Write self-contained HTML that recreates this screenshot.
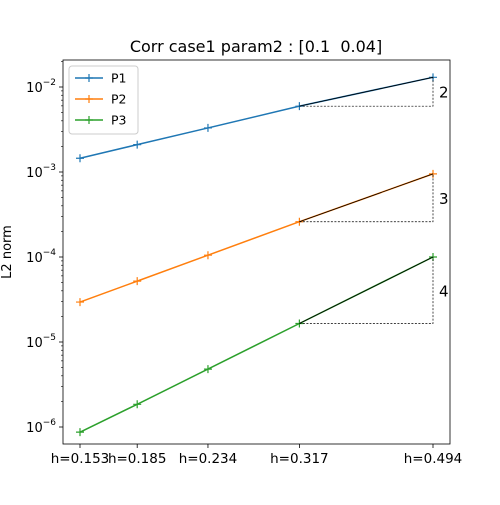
<!DOCTYPE html>
<html><head><meta charset="utf-8"><style>
body{margin:0;background:#fff;}
svg text{font-family:"DejaVu Sans","Liberation Sans",sans-serif;}
</style></head><body>
<svg id="chart" width="500" height="500" viewBox="0 0 500 500">
<rect width="500" height="500" fill="#fff"/>
<text x="256" y="52" text-anchor="middle" font-size="16" style="white-space:pre" xml:space="preserve">Corr case1 param2 : [0.1  0.04]</text>
<text x="0" y="0" transform="translate(11,252) rotate(-90)" text-anchor="middle" font-size="13">L2 norm</text>
<g id="marks"></g>
<g id="axes"></g>
</svg>
<script>
const hValues = [0.153, 0.185, 0.234, 0.317, 0.494];
const tickLabels = ["h=0.153", "h=0.185", "h=0.234", "h=0.317", "h=0.494"];
const seriesNames = ["P1", "P2", "P3"];
const p1 = [1.45e-3, 2.1e-3, 3.3e-3, 5.95e-3, 1.3e-2];
const p2 = [2.95e-5, 5.2e-5, 1.05e-4, 2.6e-4, 9.5e-4];
const p3 = [8.7e-7, 1.85e-6, 4.8e-6, 1.65e-5, 1.0e-4];
const orders = ["2", "3", "4"];
const yTickExps = [-2, -3, -4, -5, -6];

const colors = ["#1f77b4", "#ff7f0e", "#2ca02c"];
const series = [p1, p2, p3];
const L = 63, R = 450, T = 60, B = 444;
const x0 = 80, x1 = 433;
function xs(h){return x0 + (Math.log(h) - Math.log(hValues[0])) / (Math.log(hValues[hValues.length-1]) - Math.log(hValues[0])) * (x1 - x0);}
function ys(v){return 87 + (-2 - Math.log10(v)) * 85;}
const NS = "http://www.w3.org/2000/svg";
function mk(tag, attrs, parent){const e=document.createElementNS(NS,tag);for(const k in attrs)e.setAttribute(k,attrs[k]);parent.appendChild(e);return e;}
const marks = document.getElementById('marks');
const axes = document.getElementById('axes');

series.forEach((s, i) => {
  const pts = s.map((v, j) => xs(hValues[j]) + "," + ys(v)).join(" ");
  const pl = mk('polyline', {points: pts, fill: "none", stroke: colors[i], "stroke-width": 1.5}, marks);
  
  
  s.forEach((v, j) => {
    const cx = xs(hValues[j]), cy = ys(v);
    const m = mk('path', {d: `M${cx-4},${cy}H${cx+4}M${cx},${cy-4}V${cy+4}`, stroke: colors[i], "stroke-width": 1.2}, marks);
    
    
  });
  const n = s.length;
  const xa = xs(hValues[n-2]), xb = xs(hValues[n-1]), ya = ys(s[n-2]), yb = ys(s[n-1]);
  const tri = mk('path', {d: `M${xa},${ya}H${xb}V${yb}`, fill: "none", stroke: "#000", "stroke-width": 0.7, "stroke-dasharray": "2,1.5"}, marks);
  
  
  const hyp = mk('line', {x1: xa, y1: ya, x2: xb, y2: yb, stroke: "#000", "stroke-width": 0.8}, marks);
  
  
  const t = mk('text', {x: xb + 6, y: (ya + yb) / 2 + 6, "font-size": 15}, marks);
  t.textContent = orders[i];
  
  
});

const frame = mk('rect', {x: L, y: T, width: R-L, height: B-T, fill: "none", stroke: "#000", "stroke-width": 0.8}, axes);



hValues.forEach((h, j) => {
  const x = xs(h);
  const tk = mk('line', {x1: x, y1: B, x2: x, y2: B+4, stroke: "#000", "stroke-width": 0.8}, axes);
  
  
  const t = mk('text', {x: x, y: B+19, "text-anchor": "middle", "font-size": 13.5}, axes);
  t.textContent = tickLabels[j];
  
  
});

yTickExps.forEach(e => {
  const y = ys(Math.pow(10, e));
  const tk = mk('line', {x1: L-4, y1: y, x2: L, y2: y, stroke: "#000", "stroke-width": 0.8}, axes);
  
  
  const t = mk('text', {x: L-7, y: y+5, "text-anchor": "end", "font-size": 13}, axes);
  t.innerHTML = '10<tspan dy="-7" font-size="9">' + String(e).replace('-', '\u2212') + '</tspan>';
  
  
  for (let k = 2; k <= 9; k++) {
    const ym = ys(k * Math.pow(10, e));
    if (ym < T || ym > B) continue;
    const mt = mk('line', {x1: L-2, y1: ym, x2: L, y2: ym, stroke: "#000", "stroke-width": 0.6}, axes);
    
    
  }
});

const lg = mk('g', {}, axes);


mk('rect', {x: 69, y: 66, width: 69, height: 68, rx: 3, fill: "#fff", stroke: "#ccc", "stroke-width": 1}, lg);
seriesNames.forEach((n, i) => {
  const y = 78 + i * 21;
  const e = mk('g', {}, lg);
  
  
  mk('line', {x1: 75, y1: y, x2: 103, y2: y, stroke: colors[i], "stroke-width": 1.5}, e);
  mk('path', {d: `M85,${y}H93M89,${y-4}V${y+4}`, stroke: colors[i], "stroke-width": 1.2}, e);
  const t = mk('text', {x: 111, y: y+4.5, "font-size": 12.5}, e);
  t.textContent = n;
});
</script>
</body></html>
